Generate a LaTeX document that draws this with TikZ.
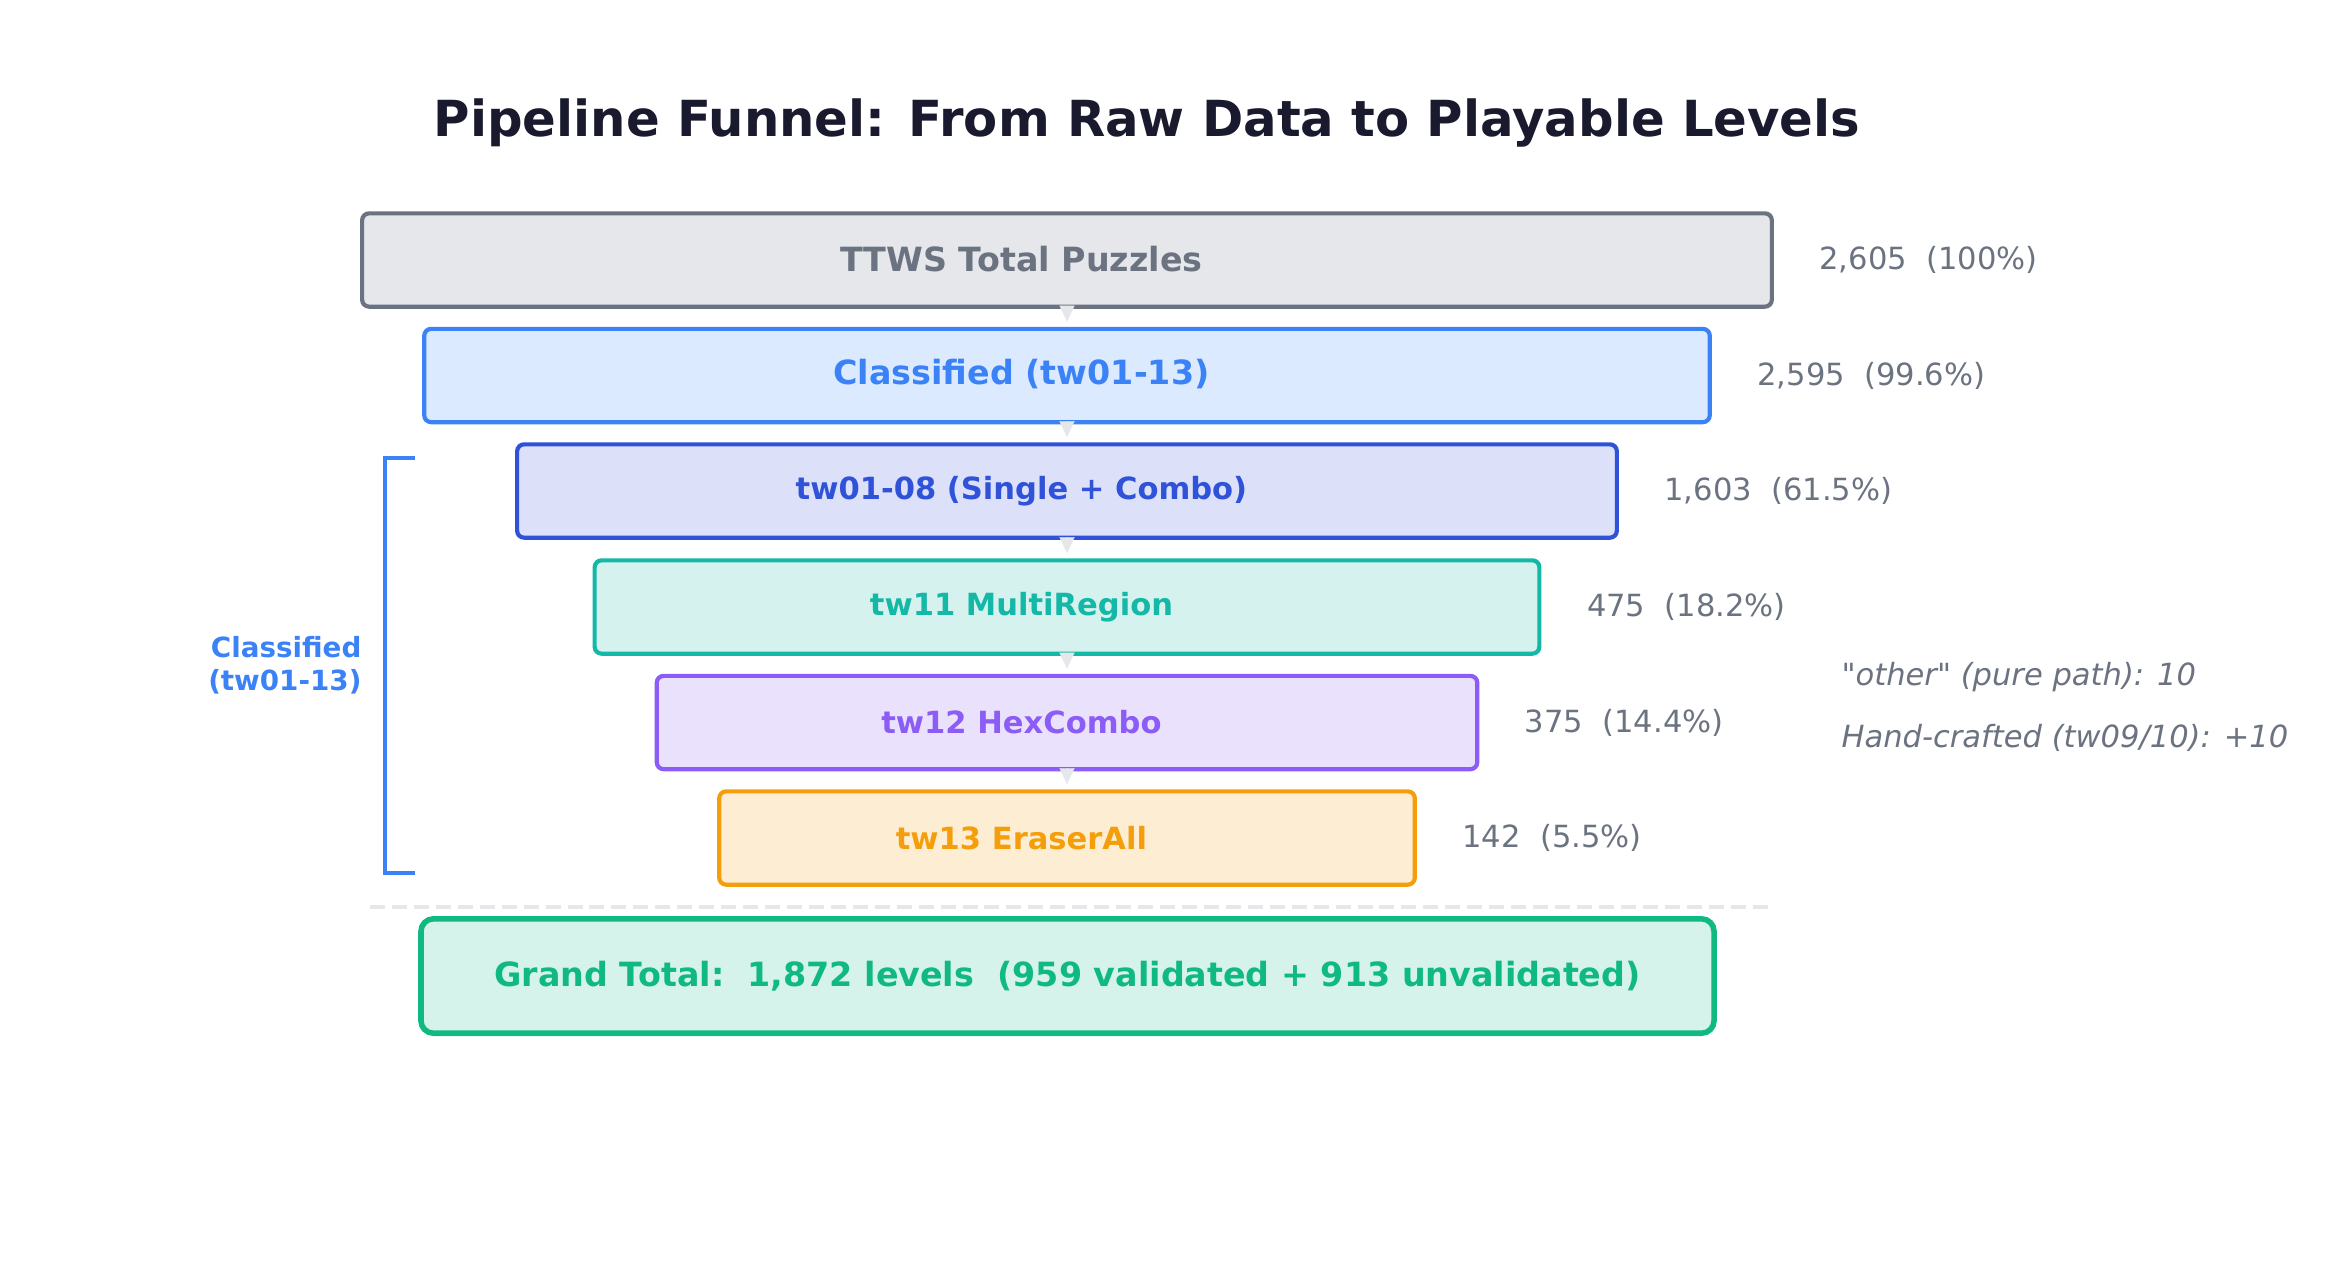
\documentclass[tikz,border=0pt]{standalone}
\usepackage{fontspec}
\setmainfont{DejaVu Sans}
\usetikzlibrary{calc,arrows.meta}

\definecolor{titleink}{HTML}{1A1A2E}
\definecolor{inkgray}{HTML}{6B7280}
\definecolor{fillgray}{HTML}{E5E7EB}
\definecolor{gapgray}{HTML}{E5E7EB}
\definecolor{inkblue}{HTML}{3B82F6}
\definecolor{fillblue}{HTML}{DBEAFE}
\definecolor{inkindigo}{HTML}{2F52D9}
\definecolor{fillindigo}{HTML}{DCE1F9}
\definecolor{inkteal}{HTML}{14B8A6}
\definecolor{fillteal}{HTML}{D6F2EF}
\definecolor{inkviolet}{HTML}{8B5CF6}
\definecolor{fillviolet}{HTML}{EAE2FD}
\definecolor{inkorange}{HTML}{F59E0B}
\definecolor{fillorange}{HTML}{FDEED3}
\definecolor{inkgreen}{HTML}{10B981}
\definecolor{fillgreen}{HTML}{D5F3EA}

\begin{document}
\begin{tikzpicture}[x=0.36pt,y=-0.36pt,
	stage/.style={draw,rounded corners=2.5pt,line width=1.5pt,minimum height=33.6pt,inner sep=0pt},
	biglabel/.style={font=\bfseries\fontsize{12}{14}\selectfont,yshift=0.5pt},
	smalllabel/.style={font=\bfseries\fontsize{11}{13}\selectfont},
	count/.style={anchor=west,inner sep=0pt,text=inkgray,font=\fontsize{11}{13}\selectfont},
	note/.style={anchor=west,inner sep=0pt,text=inkgray,font=\itshape\fontsize{11}{13}\selectfont},
	flow/.style={draw=gapgray,line width=0.1pt,shorten >=1.8pt,-{Triangle[width=5.4pt,length=5.8pt]}}]
	\useasboundingbox (0,0) rectangle (2345,1275);
	\node[font=\bfseries\fontsize{17.9}{22}\selectfont,text=titleink,anchor=base] (title) at (1147,136) {Pipeline Funnel: From Raw Data to Playable Levels};
	% funnel stages
	\node[stage,draw=inkgray,fill=fillgray,minimum width=507.5pt,
		label={[biglabel,text=inkgray,xshift=-16.4pt]center:TTWS Total Puzzles}] (total) at (1067,260) {};
	\node[stage,draw=inkblue,fill=fillblue,minimum width=462.8pt,
		label={[biglabel,text=inkblue,xshift=-16.4pt]center:Classified (tw01-13)}] (classified) at (1067,375.5) {};
	\node[stage,draw=inkindigo,fill=fillindigo,minimum width=395.9pt,
		label={[smalllabel,text=inkindigo,xshift=-16.4pt]center:tw01-08 (Single + Combo)}] (single) at (1067,491) {};
	\node[stage,draw=inkteal,fill=fillteal,minimum width=340.1pt,
		label={[smalllabel,text=inkteal,xshift=-16.4pt]center:tw11 MultiRegion}] (multi) at (1067,607) {};
	\node[stage,draw=inkviolet,fill=fillviolet,minimum width=295.4pt,
		label={[smalllabel,text=inkviolet,xshift=-16.4pt]center:tw12 HexCombo}] (hex) at (1067,722.5) {};
	\node[stage,draw=inkorange,fill=fillorange,minimum width=250.4pt,
		label={[smalllabel,text=inkorange,xshift=-16.4pt]center:tw13 EraserAll}] (eraser) at (1067,838) {};
	\draw[flow] (total) -- (classified);
	\draw[flow] (classified) -- (single);
	\draw[flow] (single) -- (multi);
	\draw[flow] (multi) -- (hex);
	\draw[flow] (hex) -- (eraser);
	% counts
	\node[count] (totalcount) at ($(total.east)+(45,0)$) {2,605\ \ (100\%)};
	\node[count] (classifiedcount) at ($(classified.east)+(45,0)$) {2,595\ \ (99.6\%)};
	\node[count] (singlecount) at ($(single.east)+(45,0)$) {1,603\ \ (61.5\%)};
	\node[count] (multicount) at ($(multi.east)+(45,0)$) {475\ \ (18.2\%)};
	\node[count] (hexcount) at ($(hex.east)+(45,0)$) {375\ \ (14.4\%)};
	\node[count] (erasercount) at ($(eraser.east)+(45,0)$) {142\ \ (5.5\%)};
	\node[note] (other) at (1841,677) {\textquotedbl other\textquotedbl\ (pure path): 10};
	\node[note] (handmade) at (1841,738) {Hand-crafted (tw09/10): +10};
	% bracket
	\draw[inkblue,line width=1.3pt] (415,458) -| (385,873) -- (415,873);
	\node[anchor=east,align=right,inner sep=0pt,text=inkblue,font=\bfseries\fontsize{10}{11.8}\selectfont] (bracetext) at (362,665) {Classified\\(tw01-13)};
	% total
	\draw[gapgray,line width=1.2pt,dash pattern=on 5.4pt off 2.5pt] (370,907) -- (1770,907);
	\node[stage,draw=inkgreen,fill=fillgreen,line width=2pt,rounded corners=4.5pt,minimum width=465.5pt,minimum height=41.2pt,
		text=inkgreen,font=\bfseries\fontsize{12}{14}\selectfont] (grand) at (1067.5,976) {Grand Total:\ \ 1,872 levels\ \ (959 validated + 913 unvalidated)};
\end{tikzpicture}
\end{document}
